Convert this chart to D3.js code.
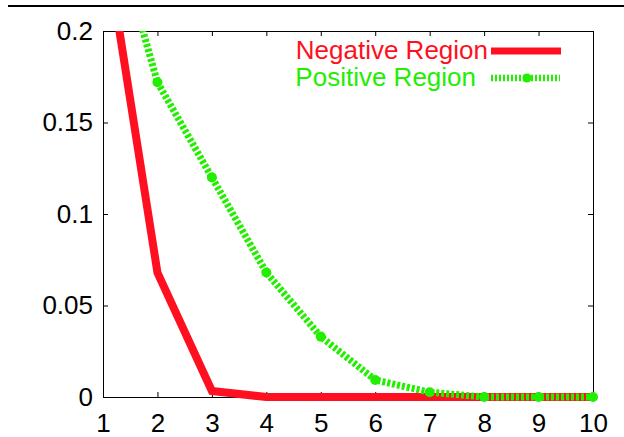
<!DOCTYPE html>
<html>
<head>
<meta charset="utf-8">
<script src="https://cdn.jsdelivr.net/npm/d3@7"></script>
<style>
  body { margin: 0; background: #fff; }
  text { font-family: "Liberation Sans", Arial, sans-serif; }
</style>
</head>
<body>
<div id="chart"></div>
<script>
var width = 624, height = 437;
var margin = {top: 31, right: 31, bottom: 40, left: 103};

var xs = [1, 2, 3, 4, 5, 6, 7, 8, 9, 10];
var negative = [0.257, 0.068, 0.0033, 0, 0, 0, 0, 0, 0, 0];
var positive = [0.277, 0.172, 0.120, 0.068, 0.033, 0.0093, 0.0026, 0, 0, 0];
var xTicks = [1, 2, 3, 4, 5, 6, 7, 8, 9, 10];
var yTicks = [0, 0.05, 0.1, 0.15, 0.2];

var svg = d3.select("#chart").append("svg")
    .attr("width", width)
    .attr("height", height);

var x = d3.scaleLinear().domain([1, 10]).range([margin.left, width - margin.right]);
var y = d3.scaleLinear().domain([0, 0.2]).range([height - margin.bottom, margin.top]);

// top rule
svg.append("line")
    .attr("x1", 8).attr("x2", width)
    .attr("y1", 6).attr("y2", 6)
    .attr("stroke", "#000").attr("stroke-width", 2);

// clip only at the top, lines at 0 keep their full width
svg.append("defs").append("clipPath").attr("id", "clip")
  .append("rect")
    .attr("x", margin.left - 10).attr("y", margin.top)
    .attr("width", x(10) - x(1) + 20).attr("height", y(0) - y(0.2) + 20);

var fmt = function(d) { return d === 0 ? "0" : String(d); };

// axes, gnuplot style: ticks inward and mirrored
var axes = svg.append("g");
axes.append("g")
    .attr("transform", "translate(0," + y(0) + ")")
    .call(d3.axisBottom(x).tickValues(xTicks).tickSize(-5).tickPadding(17).tickFormat(fmt));
axes.append("g")
    .attr("transform", "translate(0," + y(0.2) + ")")
    .call(d3.axisTop(x).tickValues(xTicks).tickSize(-5).tickFormat(""));
axes.append("g")
    .attr("transform", "translate(" + x(1) + ",0)")
    .call(d3.axisLeft(y).tickValues(yTicks).tickSize(-5).tickPadding(10).tickFormat(fmt));
axes.append("g")
    .attr("transform", "translate(" + x(10) + ",0)")
    .call(d3.axisRight(y).tickValues(yTicks).tickSize(-5).tickFormat(""));
axes.selectAll("g").attr("font-size", 26).attr("font-family", "Liberation Sans, Arial, sans-serif");
axes.selectAll("text").attr("fill", "#000");
axes.selectAll(".domain").attr("stroke", "#000").attr("stroke-width", 1);
axes.selectAll(".tick line").attr("stroke", "#000");

var line = d3.line().x(function(d, i) { return x(xs[i]); }).y(function(d) { return y(d); });

var plot = svg.append("g").attr("clip-path", "url(#clip)");

plot.append("path")
    .datum(negative)
    .attr("d", line)
    .attr("fill", "none")
    .attr("stroke", "#ff1020")
    .attr("stroke-width", 8)
    .attr("stroke-linejoin", "miter");

plot.append("path")
    .datum(positive)
    .attr("d", line)
    .attr("fill", "none")
    .attr("stroke", "#22ee00")
    .attr("stroke-width", 7)
    .attr("stroke-dasharray", "3,2");

plot.selectAll(".pt")
    .data(positive)
  .enter().append("circle")
    .attr("cx", function(d, i) { return x(xs[i]); })
    .attr("cy", function(d) { return y(d); })
    .attr("r", 5)
    .attr("fill", "#22ee00");

// legend
var legend = svg.append("g").attr("font-size", 26);
legend.append("text")
    .attr("x", 488).attr("y", 59)
    .attr("text-anchor", "end")
    .attr("fill", "#ff1020")
    .text("Negative Region");
legend.append("line")
    .attr("x1", 491).attr("x2", 561).attr("y1", 51).attr("y2", 51)
    .attr("stroke", "#ff1020").attr("stroke-width", 7);
legend.append("text")
    .attr("x", 476).attr("y", 86)
    .attr("text-anchor", "end")
    .attr("fill", "#22ee00")
    .text("Positive Region");
legend.append("line")
    .attr("x1", 491).attr("x2", 560).attr("y1", 78).attr("y2", 78)
    .attr("stroke", "#22ee00").attr("stroke-width", 6.5)
    .attr("stroke-dasharray", "2,2");
legend.append("circle")
    .attr("cx", 527).attr("cy", 78).attr("r", 4.5)
    .attr("fill", "#22ee00");
</script>
</body>
</html>
